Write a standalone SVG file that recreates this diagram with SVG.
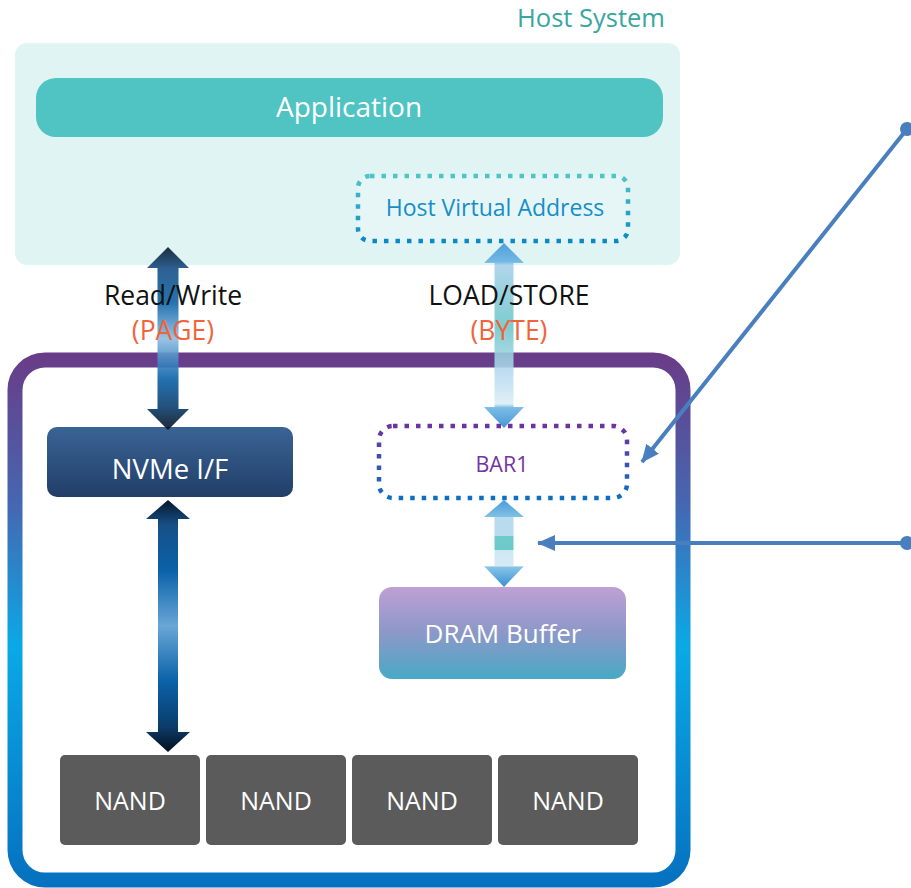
<svg xmlns="http://www.w3.org/2000/svg" width="911" height="888" viewBox="0 0 911 888">
<style>
text{font-family:"Open Sans","Noto Sans",sans-serif;text-anchor:middle}
.w{fill:#ffffff}
.lbl{font-size:26.5px;fill:#111111}
.org{font-size:26.5px;fill:#f0643c}
.nand{fill:#5b5b5b}
.conn{stroke:#4a7fbf;stroke-width:4;fill:none}
</style>
<defs>
<linearGradient id="frame" gradientUnits="userSpaceOnUse" x1="0" y1="352" x2="0" y2="888">
<stop offset="0" stop-color="#6a3b87"/>
<stop offset="0.28" stop-color="#4666b0"/>
<stop offset="0.55" stop-color="#0aa9e6"/>
<stop offset="1" stop-color="#0670bf"/>
</linearGradient>
<linearGradient id="hvaStroke" gradientUnits="userSpaceOnUse" x1="0" y1="175" x2="0" y2="242">
<stop offset="0" stop-color="#4ec6c6"/>
<stop offset="1" stop-color="#0a87c6"/>
</linearGradient>
<linearGradient id="barStroke" gradientUnits="userSpaceOnUse" x1="0" y1="425" x2="0" y2="499">
<stop offset="0" stop-color="#7030a0"/>
<stop offset="1" stop-color="#0a70c2"/>
</linearGradient>
<linearGradient id="nvme" x1="0" y1="0" x2="0" y2="1">
<stop offset="0" stop-color="#3a6495"/>
<stop offset="1" stop-color="#213e68"/>
</linearGradient>
<linearGradient id="dram" x1="0" y1="0" x2="0" y2="1">
<stop offset="0" stop-color="#bea0d4"/>
<stop offset="0.5" stop-color="#8c98c8"/>
<stop offset="1" stop-color="#48a9c6"/>
</linearGradient>
<linearGradient id="darr1" gradientUnits="userSpaceOnUse" x1="0" y1="247" x2="0" y2="430">
<stop offset="0" stop-color="#07182c"/>
<stop offset="0.12" stop-color="#174f86"/>
<stop offset="0.3" stop-color="#0c62a6"/>
<stop offset="0.5" stop-color="#8dbce2"/>
<stop offset="0.72" stop-color="#0a62a8"/>
<stop offset="0.88" stop-color="#0b3c6a"/>
<stop offset="1" stop-color="#050f1c"/>
</linearGradient>
<linearGradient id="darr2" gradientUnits="userSpaceOnUse" x1="0" y1="500" x2="0" y2="752">
<stop offset="0" stop-color="#07182c"/>
<stop offset="0.1" stop-color="#174f86"/>
<stop offset="0.28" stop-color="#0a62a8"/>
<stop offset="0.5" stop-color="#6aa6d6"/>
<stop offset="0.72" stop-color="#0a62a8"/>
<stop offset="0.9" stop-color="#0b3c6a"/>
<stop offset="1" stop-color="#050f1c"/>
</linearGradient>
<linearGradient id="larr1" gradientUnits="userSpaceOnUse" x1="0" y1="243" x2="0" y2="428">
<stop offset="0" stop-color="#3d94d4"/>
<stop offset="0.1" stop-color="#62b0e2"/>
<stop offset="0.12" stop-color="#a6d0ea"/>
<stop offset="0.45" stop-color="#6cc6c8"/>
<stop offset="0.7" stop-color="#b6d9ef"/>
<stop offset="0.87" stop-color="#dcedf8"/>
<stop offset="0.89" stop-color="#6ab4e4"/>
<stop offset="1" stop-color="#2f86cc"/>
</linearGradient>
<linearGradient id="larr2" gradientUnits="userSpaceOnUse" x1="0" y1="500" x2="0" y2="587">
<stop offset="0" stop-color="#4a9cd8"/>
<stop offset="0.19" stop-color="#80c0e6"/>
<stop offset="0.2" stop-color="#b8dcee"/>
<stop offset="0.41" stop-color="#b8dcee"/>
<stop offset="0.42" stop-color="#6ccac8"/>
<stop offset="0.57" stop-color="#6ccac8"/>
<stop offset="0.58" stop-color="#cfe7f4"/>
<stop offset="0.76" stop-color="#d6ebf6"/>
<stop offset="0.77" stop-color="#86c4e8"/>
<stop offset="1" stop-color="#3a90d0"/>
</linearGradient>
<marker id="ah" markerWidth="18" markerHeight="16" refX="17" refY="8" orient="auto" markerUnits="userSpaceOnUse" viewBox="0 0 18 16">
<path d="M0,0 L18,8 L0,16 Z" fill="#4a7fbf"/>
</marker>
</defs>

<g id="host-system">
<rect x="15" y="43" width="665" height="222" rx="12" fill="#e0f4f3"/>
<text x="591" y="27" style="font-size:25.5px;fill:#3aa6a0">Host System</text>
</g>

<g id="application">
<rect x="36" y="78" width="627" height="59" rx="20" fill="#50c3c3"/>
<text class="w" x="349" y="117" style="font-size:28px">Application</text>
</g>

<g id="host-virtual-address">
<rect x="358" y="176" width="270" height="65" rx="12" fill="#e6f6f6" stroke="url(#hvaStroke)" stroke-width="4.5" stroke-dasharray="4.5 7"/>
<text x="495" y="216" style="font-size:23px;fill:#168ec8">Host Virtual Address</text>
</g>

<g id="ssd-frame">
<rect x="15" y="360" width="668" height="520" rx="30" fill="#ffffff" stroke="url(#frame)" stroke-width="15"/>
</g>

<g id="nvme-if">
<rect x="47" y="427" width="246" height="70" rx="10" fill="url(#nvme)"/>
<text class="w" x="170" y="479" style="font-size:27.5px">NVMe I/F</text>
</g>

<g id="bar1">
<rect x="379" y="426" width="248" height="72" rx="14" fill="none" stroke="url(#barStroke)" stroke-width="4.5" stroke-dasharray="4.5 7"/>
<text x="502" y="472" style="font-size:21.5px;fill:#7334a6">BAR1</text>
</g>

<g id="dram-buffer">
<rect x="379" y="587" width="247" height="92" rx="13" fill="url(#dram)"/>
<text class="w" x="503" y="643" style="font-size:26px">DRAM Buffer</text>
</g>

<g id="nand1"><rect class="nand" x="60" y="755" width="140" height="90" rx="5"/><text class="w" x="130" y="810" style="font-size:25px">NAND</text></g>
<g id="nand2"><rect class="nand" x="206" y="755" width="140" height="90" rx="5"/><text class="w" x="276" y="810" style="font-size:25px">NAND</text></g>
<g id="nand3"><rect class="nand" x="352" y="755" width="140" height="90" rx="5"/><text class="w" x="422" y="810" style="font-size:25px">NAND</text></g>
<g id="nand4"><rect class="nand" x="498" y="755" width="140" height="90" rx="5"/><text class="w" x="568" y="810" style="font-size:25px">NAND</text></g>

<g id="connectors">
<path d="M168,247 L189,268 L178.5,268 L178.5,409 L189,409 L168,430 L147,409 L157.5,409 L157.5,268 L147,268 Z" fill="url(#darr1)" opacity="0.9"/>
<path d="M168,500 L190,519 L178,519 L178,732 L190,732 L168,752 L146,732 L158,732 L158,519 L146,519 Z" fill="url(#darr2)"/>
<path d="M504,243 L524,263 L513.5,263 L513.5,407 L524,407 L504,428 L484,407 L494.5,407 L494.5,263 L484,263 Z" fill="url(#larr1)" opacity="0.88"/>
<path d="M504,500 L524,517 L513.5,517 L513.5,566 L524,566 L504,587 L484,566 L494.5,566 L494.5,517 L484,517 Z" fill="url(#larr2)"/>
<line class="conn" x1="907" y1="129" x2="642" y2="462" marker-end="url(#ah)"/>
<line class="conn" x1="907" y1="543" x2="538" y2="543" marker-end="url(#ah)"/>
<circle cx="907" cy="129" r="7" fill="#4a7fbf"/>
<circle cx="907" cy="543" r="7" fill="#4a7fbf"/>
</g>

<g id="labels">
<text class="lbl" x="173" y="305">Read/Write</text>
<text class="org" x="173" y="340">(PAGE)</text>
<text class="lbl" x="509" y="305">LOAD/STORE</text>
<text class="org" x="509" y="340">(BYTE)</text>
</g>
</svg>
